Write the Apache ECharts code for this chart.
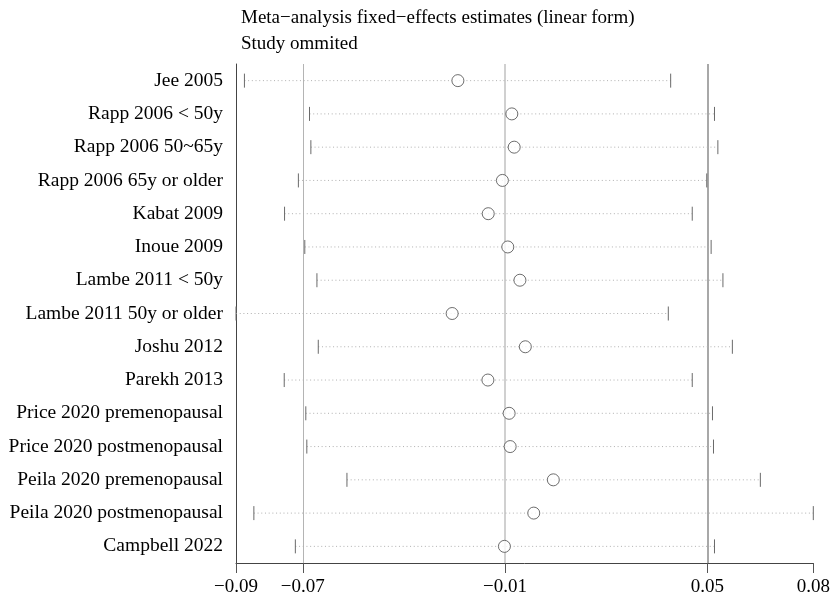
<!DOCTYPE html>
<html>
<head>
<meta charset="utf-8">
<script src="https://cdn.jsdelivr.net/npm/echarts@6/dist/echarts.min.js"></script>
<style>
  html, body { margin: 0; padding: 0; background: #fff; }
  #chart { width: 835px; height: 596px; }
</style>
</head>
<body>
<div id="chart"></div>
<script>
// Influence analysis: pooled estimate recomputed with each study omitted
const studies = [
  'Jee 2005',
  'Rapp 2006 < 50y',
  'Rapp 2006 50~65y',
  'Rapp 2006 65y or older',
  'Kabat 2009',
  'Inoue 2009',
  'Lambe 2011 < 50y',
  'Lambe 2011 50y or older',
  'Joshu 2012',
  'Parekh 2013',
  'Price 2020 premenopausal',
  'Price 2020 postmenopausal',
  'Peila 2020 premenopausal',
  'Peila 2020 postmenopausal',
  'Campbell 2022'
];
const estimate = [-0.0240, -0.0080, -0.0073, -0.0108, -0.0150, -0.0092, -0.0056, -0.0257,
                  -0.0040, -0.0151, -0.0088, -0.0085, 0.0043, -0.0015, -0.0102];
const lowerCI  = [-0.0873, -0.0680, -0.0676, -0.0713, -0.0754, -0.0694, -0.0658, -0.0898,
                  -0.0654, -0.0755, -0.0691, -0.0688, -0.0569, -0.0845, -0.0722];
const upperCI  = [0.0391, 0.0521, 0.0531, 0.0498, 0.0455, 0.0511, 0.0546, 0.0384,
                  0.0574, 0.0455, 0.0515, 0.0518, 0.0657, 0.0814, 0.0521];
// Full fixed-effects pooled result: [lower CI, estimate, upper CI]
const pooled = [-0.0700, -0.0100, 0.0500];

const xMin = Math.min(...lowerCI);
const xMax = Math.max(...upperCI);
const tickValues = [xMin, pooled[0], pooled[1], pooled[2], xMax];

const FONT = '"Liberation Serif", "Times New Roman", serif';
const fmt = v => v.toFixed(2).replace('-', '\u2212');

const chart = echarts.init(document.getElementById('chart'), null, { renderer: 'canvas' });

chart.setOption({
  animation: false,
  backgroundColor: '#fff',
  title: {
    text: 'Meta\u2212analysis fixed\u2212effects estimates (linear form)\nStudy ommited',
    left: 241,
    top: 5,
    padding: 0,
    textStyle: {
      fontFamily: FONT,
      fontSize: 19,
      fontWeight: 'normal',
      color: '#000',
      lineHeight: 26
    }
  },
  grid: {
    left: 236,
    top: 64,
    right: 835 - 813.3,
    bottom: 33,
    containLabel: false,
    outerBoundsMode: 'none'
  },
  xAxis: {
    type: 'value',
    min: xMin,
    max: xMax,
    axisLine: { show: true, onZero: false, lineStyle: { color: '#444', width: 1 } },
    axisTick: {
      show: true,
      customValues: tickValues,
      length: 10,
      lineStyle: { color: '#555', width: 1 }
    },
    axisLabel: {
      customValues: tickValues,
      formatter: fmt,
      showMinLabel: true,
      showMaxLabel: true,
      hideOverlap: false,
      fontFamily: FONT,
      fontSize: 19,
      color: '#000',
      margin: 15
    },
    splitLine: { show: false }
  },
  yAxis: {
    type: 'category',
    data: studies,
    inverse: true,
    axisLine: { show: true, onZero: false, lineStyle: { color: '#444', width: 1 } },
    axisTick: { show: false },
    axisLabel: {
      fontFamily: FONT,
      fontSize: 19.5,
      color: '#000',
      margin: 13
    },
    splitLine: { show: false }
  },
  series: [
    {
      // confidence interval: dotted span with end caps
      type: 'custom',
      silent: true,
      data: lowerCI.map((l, i) => [l, upperCI[i], i]),
      encode: { x: [0, 1], y: 2 },
      renderItem: function (params, api) {
        const i = api.value(2);
        const p0 = api.coord([api.value(0), i]);
        const p1 = api.coord([api.value(1), i]);
        const h = 7;
        return {
          type: 'group',
          children: [
            {
              type: 'line',
              shape: { x1: p0[0], y1: p0[1], x2: p1[0], y2: p1[1] },
              style: { stroke: '#b0b0b0', lineWidth: 1, lineDash: [1, 2.7] }
            },
            {
              type: 'line',
              shape: { x1: p0[0], y1: p0[1] - h, x2: p0[0], y2: p0[1] + h },
              style: { stroke: '#6a6a6a', lineWidth: 1 }
            },
            {
              type: 'line',
              shape: { x1: p1[0], y1: p1[1] - h, x2: p1[0], y2: p1[1] + h },
              style: { stroke: '#6a6a6a', lineWidth: 1 }
            }
          ]
        };
      },
      z: 2
    },
    {
      // omitted-study point estimates
      type: 'scatter',
      data: estimate.map((v, i) => [v, i]),
      symbol: 'circle',
      symbolSize: 12,
      itemStyle: { color: '#fff', borderColor: '#4a4a4a', borderWidth: 1 },
      silent: true,
      z: 3,
      markLine: {
        silent: true,
        symbol: ['none', 'none'],
        label: { show: false },
        z: 1,
        data: [
          { xAxis: pooled[0], lineStyle: { color: '#b4b4b4', width: 1, type: 'solid' } },
          { xAxis: pooled[1], lineStyle: { color: '#d0d0d0', width: 2, type: 'solid' } },
          { xAxis: pooled[2], lineStyle: { color: '#a8a8a8', width: 2, type: 'solid' } }
        ]
      }
    }
  ]
});
</script>
</body>
</html>
